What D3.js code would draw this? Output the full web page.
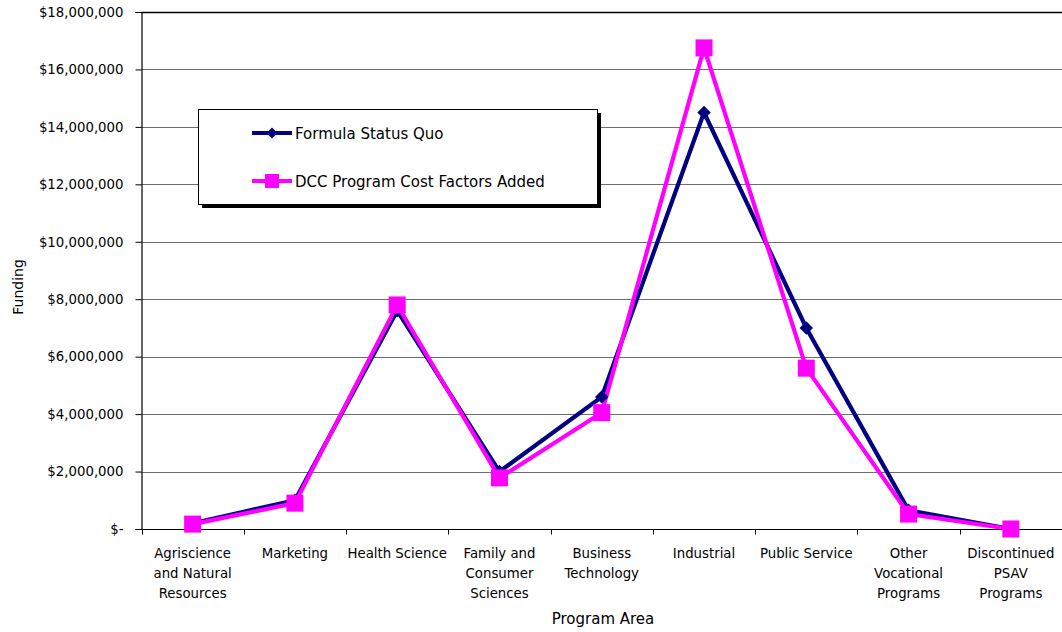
<!DOCTYPE html>
<html>
<head>
<meta charset="utf-8">
<script src="https://cdn.jsdelivr.net/npm/d3@7"></script>
<style>
  html, body { margin: 0; padding: 0; background: #fff; }
  svg { display: block; }
  text { font-family: Tahoma, "DejaVu Sans", sans-serif; fill: #000; }
</style>
</head>
<body>
<svg id="chart" width="1062" height="632"></svg>
<script>
// Program areas along the x axis (multi-line labels)
const categories = [
  ["Agriscience", "and Natural", "Resources"],
  ["Marketing"],
  ["Health Science"],
  ["Family and", "Consumer", "Sciences"],
  ["Business", "Technology"],
  ["Industrial"],
  ["Public Service"],
  ["Other", "Vocational", "Programs"],
  ["Discontinued", "PSAV", "Programs"]
];

// Funding per program area, in dollars
const statusQuo = [200000, 1000000, 7600000, 2000000, 4600000, 14500000, 7000000, 650000, 0];
const dccAdded  = [170000, 900000, 7800000, 1780000, 4050000, 16750000, 5600000, 520000, 0];

const yTicks = [0, 2000000, 4000000, 6000000, 8000000, 10000000, 12000000, 14000000, 16000000, 18000000];

const seriesNames = ["Formula Status Quo", "DCC Program Cost Factors Added"];
const navy = "#000080", magenta = "#FF00FF";

const svg = d3.select("#chart");
const margin = { left: 141.5, top: 12, right: 0, bottom: 103 };
const W = 1062, H = 632;
const plotW = W - margin.left - margin.right;
const plotH = H - margin.top - margin.bottom;

const idx = categories.map((d, i) => i);
const x = d3.scaleBand().domain(idx).range([margin.left, margin.left + plotW]).paddingInner(0).paddingOuter(0);
const y = d3.scaleLinear().domain([0, 18000000]).range([margin.top + plotH, margin.top]);
const cx = i => x(i) + x.bandwidth() / 2;

const fmt = v => v === 0 ? "$-" : "$" + d3.format(",")(v);

// horizontal gridlines
svg.append("g").selectAll("line").data(yTicks.filter(v => v > 0)).join("line")
  .attr("x1", margin.left).attr("x2", W)
  .attr("y1", d => Math.round(y(d)) + 0.5).attr("y2", d => Math.round(y(d)) + 0.5)
  .attr("stroke", d => d === 18000000 ? "#000" : "#6e6e6e")
  .attr("stroke-width", d => d === 18000000 ? 1.5 : 1);

// y axis
const yAxis = svg.append("g")
  .attr("transform", `translate(${margin.left},0)`)
  .call(d3.axisLeft(y).tickValues(yTicks).tickFormat(fmt).tickSize(6).tickPadding(12));
yAxis.select(".domain").attr("stroke", "#000").attr("stroke-width", 1.2);
yAxis.selectAll(".tick line").attr("stroke", "#000");
yAxis.selectAll("text").style("font-size", "13.3px").style("font-family", "Tahoma, 'DejaVu Sans', sans-serif").attr("fill", "#000");

// x axis with ticks at category boundaries
const baseY = Math.round(y(0)) + 0.5;
svg.append("line").attr("x1", margin.left).attr("x2", W).attr("y1", baseY).attr("y2", baseY)
  .attr("stroke", "#000").attr("stroke-width", 1.2);
svg.append("g").selectAll("line").data(d3.range(0, categories.length + 1)).join("line")
  .attr("x1", i => Math.round(margin.left + i * x.bandwidth()) + 0.5)
  .attr("x2", i => Math.round(margin.left + i * x.bandwidth()) + 0.5)
  .attr("y1", baseY).attr("y2", baseY + 5)
  .attr("stroke", "#000");

// category labels
const catG = svg.append("g");
categories.forEach((lines, i) => {
  const t = catG.append("text").attr("text-anchor", "middle").style("font-size", "13.3px")
    .attr("x", cx(i)).attr("y", 558);
  lines.forEach((ln, k) => t.append("tspan").attr("x", cx(i)).attr("dy", k === 0 ? 0 : 20).text(ln));
});

// axis titles
svg.append("text").attr("x", 603).attr("y", 624).attr("text-anchor", "middle")
  .style("font-size", "15px").text("Program Area");
svg.append("text").attr("transform", "translate(23,287) rotate(-90)").attr("text-anchor", "middle")
  .style("font-size", "14px").text("Funding");

// series lines
const line = d3.line().x((d, i) => cx(i)).y(d => y(d));
svg.append("path").datum(statusQuo).attr("d", line)
  .attr("fill", "none").attr("stroke", navy).attr("stroke-width", 4.2).attr("stroke-linejoin", "miter");
svg.append("path").datum(dccAdded).attr("d", line)
  .attr("fill", "none").attr("stroke", magenta).attr("stroke-width", 4.2).attr("stroke-linejoin", "miter");

// markers: navy diamonds, magenta squares
svg.append("g").selectAll("path").data(statusQuo).join("path")
  .attr("transform", (d, i) => `translate(${cx(i)},${y(d)}) rotate(45)`)
  .attr("d", d3.symbol().type(d3.symbolSquare).size(90)).attr("fill", navy);
svg.append("g").selectAll("rect").data(dccAdded).join("rect")
  .attr("x", (d, i) => cx(i) - 8.5).attr("y", d => y(d) - 8.5)
  .attr("width", 17).attr("height", 17).attr("fill", magenta);

// legend with drop shadow
const lg = svg.append("g");
lg.append("rect").attr("x", 202).attr("y", 113).attr("width", 399).attr("height", 95).attr("fill", "#000");
lg.append("rect").attr("x", 198.5).attr("y", 109.5).attr("width", 399).attr("height", 95)
  .attr("fill", "#fff").attr("stroke", "#000").attr("stroke-width", 1);
const colors = [navy, magenta];
const ly = [133, 181];
seriesNames.forEach((name, k) => {
  lg.append("line").attr("x1", 252).attr("x2", 292).attr("y1", ly[k]).attr("y2", ly[k])
    .attr("stroke", colors[k]).attr("stroke-width", 4.2);
  if (k === 0) {
    lg.append("path").attr("transform", `translate(272,${ly[k]}) rotate(45)`)
      .attr("d", d3.symbol().type(d3.symbolSquare).size(60)).attr("fill", navy);
  } else {
    lg.append("rect").attr("x", 265).attr("y", ly[k] - 7).attr("width", 14).attr("height", 14).attr("fill", magenta);
  }
  lg.append("text").attr("x", 295).attr("y", ly[k] + 5.5).style("font-size", "15px").text(name);
});
</script>
</body>
</html>
